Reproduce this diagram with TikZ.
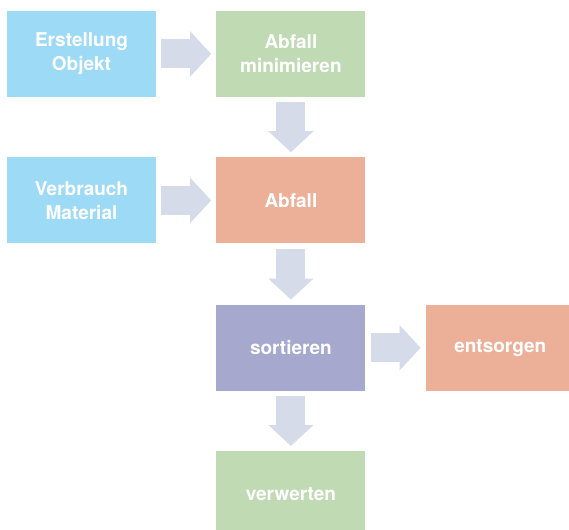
\documentclass[tikz,border=0pt]{standalone}
\usepackage{fontspec}
\setmainfont{TeX Gyre Heros}
\usetikzlibrary{positioning,arrows.meta}

\definecolor{boxblue}{RGB}{157,218,245}
\definecolor{boxgreen}{RGB}{192,219,180}
\definecolor{boxsalmon}{RGB}{236,176,152}
\definecolor{boxpurple}{RGB}{166,168,206}
\definecolor{arrowgrey}{RGB}{213,219,233}

\begin{document}
\begin{tikzpicture}[
				x=1pt,y=-1pt,
				box/.style={minimum width=149pt,minimum height=86pt,inner sep=0pt,
					text=white,font=\fontsize{19}{24}\selectfont\bfseries,align=center},
				blockarrow/.style={draw=arrowgrey,line width=29pt,
					-{Triangle[length=21pt,width=44pt,fill=arrowgrey]},
					shorten <=5pt,shorten >=5pt}]
				
				\useasboundingbox (0,0) rectangle (569,529);
				
				% Boxes
				\node[box,fill=boxblue] (erst) at (81.5,54) {Erstellung\\Objekt};
				\node[box,fill=boxgreen,right=60pt of erst] (minim) {Abfall\\minimieren};
				\node[box,fill=boxblue,below=60pt of erst] (verb) {Verbrauch\\Material};
				\node[box,fill=boxsalmon,below=60pt of minim] (abfall) {Abfall};
				\node[box,fill=boxpurple,below=61pt of abfall] (sort) {sortieren};
				\node[box,fill=boxsalmon,right=60pt of sort] (ents) {entsorgen};
				\node[box,fill=boxgreen,below=60pt of sort] (verw) {verwerten};
				
				% Arrows
				\draw[blockarrow] (erst) -- (minim);
				\draw[blockarrow] (minim) -- (abfall);
				\draw[blockarrow] (verb) -- (abfall);
				\draw[blockarrow] (abfall) -- (sort);
				\draw[blockarrow] (sort) -- (ents);
				\draw[blockarrow] (sort) -- (verw);
			\end{tikzpicture}
\end{document}
